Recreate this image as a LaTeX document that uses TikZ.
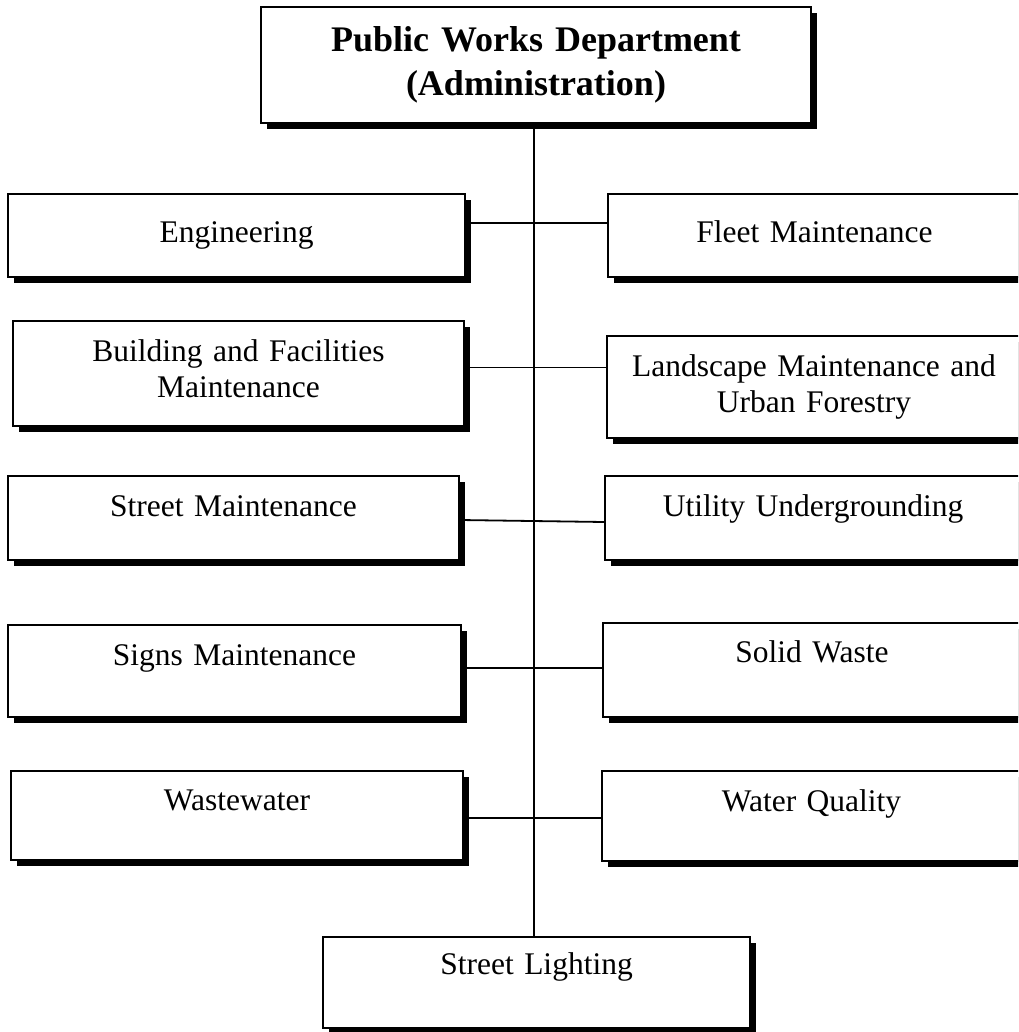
\documentclass[tikz,border=0pt]{standalone}
\usepackage{fontspec}
\setmainfont{Liberation Serif}
\usetikzlibrary{shadows}
\begin{document}
\begin{tikzpicture}[x=1pt,y=-1pt,
  unit/.style={draw=black, line width=2pt, fill=white, inner sep=0pt, rectangle,
    drop shadow={shadow xshift=6pt, shadow yshift=-6pt, fill=black, opacity=1}},
  unittext/.style={anchor=base, inner sep=0pt, text width=430pt, align=center,
    font=\fontsize{31.5}{36}\selectfont},
  headtext/.style={unittext, text width=540pt, font=\bfseries\fontsize{36}{44}\selectfont},
  link/.style={line width=1.8pt}]

% page frame
\useasboundingbox (0,0) rectangle (1018,1032);
\fill[white] (0,0) rectangle (1018,1032);
\clip (0,0) rectangle (1018,1032);

% department head
\node[unit, minimum width=550pt, minimum height=116pt] (head) at (536,65) {};

% divisions, left column
\node[unit, minimum width=457pt, minimum height=83pt]  (eng)  at (236.5,235.5) {};
\node[unit, minimum width=451pt, minimum height=105pt] (bld)  at (238.5,373.5) {};
\node[unit, minimum width=451pt, minimum height=84pt]  (stm)  at (233.5,518) {};
\node[unit, minimum width=453pt, minimum height=92pt]  (sign) at (234.5,671) {};
\node[unit, minimum width=452pt, minimum height=89pt]  (ww)   at (237,815.5) {};

% divisions, right column
\node[unit, minimum width=413pt, minimum height=83pt]  (fleet) at (814.5,235.5) {};
\node[unit, minimum width=414pt, minimum height=102pt] (land)  at (814,387) {};
\node[unit, minimum width=416pt, minimum height=84pt]  (util)  at (813,518) {};
\node[unit, minimum width=418pt, minimum height=94pt]  (solid) at (812,670) {};
\node[unit, minimum width=419pt, minimum height=90pt]  (wq)    at (811.5,816) {};

% bottom division
\node[unit, minimum width=427pt, minimum height=91pt] (sl) at (536.5,982.5) {};

% connectors
\draw[link] (head.south -| 534,0) -- (sl.north -| 534,0);
\draw[link] (eng.east |- 0,223) -- (fleet.west |- 0,223);
\draw[link] (bld.east |- 0,367.5) -- (land.west |- 0,367.5);
\draw[link] (stm.east |- 0,520) -- (util.west |- 0,522);
\draw[link] (sign.east |- 0,668) -- (solid.west |- 0,668);
\draw[link] (ww.east |- 0,818) -- (wq.west |- 0,818);

% labels
\node[headtext] (headT) at ([yshift=-46pt]head.north) {Public Works Department\\(Administration)};
\node[unittext] (engT)   at ([yshift=-50pt]eng.north)   {Engineering};
\node[unittext] (bldT)   at ([yshift=-41pt]bld.north)   {Building and Facilities\\Maintenance};
\node[unittext] (stmT)   at ([yshift=-41pt]stm.north)   {Street Maintenance};
\node[unittext] (signT)  at ([yshift=-41pt]sign.north)  {Signs Maintenance};
\node[unittext] (wwT)    at ([yshift=-40pt]ww.north)    {Wastewater};
\node[unittext] (fleetT) at ([yshift=-50pt]fleet.north) {Fleet Maintenance};
\node[unittext] (landT)  at ([yshift=-41pt]land.north)  {Landscape Maintenance and\\Urban Forestry};
\node[unittext] (utilT)  at ([yshift=-41pt]util.north)  {Utility Undergrounding};
\node[unittext] (solidT) at ([yshift=-40pt]solid.north) {Solid Waste};
\node[unittext] (wqT)    at ([yshift=-41pt]wq.north)    {Water Quality};
\node[unittext] (slT)    at ([yshift=-38pt]sl.north)    {Street Lighting};
\end{tikzpicture}
\end{document}
